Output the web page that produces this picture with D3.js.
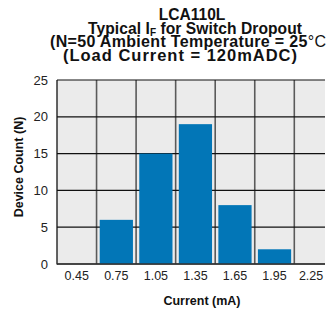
<!DOCTYPE html>
<html><head><meta charset="utf-8">
<script src="https://cdn.jsdelivr.net/npm/d3@7"></script>
<style>body{margin:0;background:#fff}svg{display:block;font-family:"Liberation Sans",Arial,sans-serif}</style>
</head><body><svg id="c" width="327" height="311"></svg>
<script>
const categories = ["0.45","0.75","1.05","1.35","1.65","1.95","2.25"];
const counts = [0, 6, 15, 19, 8, 2, 0];
const yTicks = [0, 5, 10, 15, 20, 25];

const svg = d3.select("#c");
const L = 57, T = 80, B = 264, R = 325;
const step = 39.55;
const x = d3.scaleBand().domain(categories).range([L, L + step * categories.length]).padding(0);
const y = d3.scaleLinear().domain([0, 25]).range([B, T]);

svg.append("defs").append("clipPath").attr("id","pc")
  .append("rect").attr("x", L).attr("y", T - 1).attr("width", R - L).attr("height", B - T + 2);

const g = svg.append("g").attr("clip-path","url(#pc)");
g.append("rect").attr("x", L).attr("y", T).attr("width", R - L).attr("height", B - T).attr("fill", "#ebebeb");

// vertical grid
g.selectAll("line.v").data(categories.slice(1)).join("line")
  .attr("x1", d => x(d)).attr("x2", d => x(d)).attr("y1", T).attr("y2", B)
  .attr("stroke", "#5a5a5a").attr("stroke-width", 1.6);
// horizontal grid
g.selectAll("line.h").data(yTicks).join("line")
  .attr("x1", L).attr("x2", R).attr("y1", d => y(d)).attr("y2", d => y(d))
  .attr("stroke", "#111").attr("stroke-width", 1.2);

// bars
const inset = x.bandwidth() * 0.08;
g.selectAll("rect.bar").data(categories.map((c, i) => ({c, v: counts[i]})).filter(d => d.v > 0)).join("rect")
  .attr("class","bar")
  .attr("x", d => x(d.c) + inset).attr("width", x.bandwidth() - 2 * inset)
  .attr("y", d => y(d.v)).attr("height", d => y(0) - y(d.v))
  .attr("fill", "#0276b7");

// axes lines
svg.append("line").attr("x1", L).attr("x2", L).attr("y1", T).attr("y2", B + 0.6).attr("stroke", "#111").attr("stroke-width", 1.3);
svg.append("line").attr("x1", L).attr("x2", R).attr("y1", B).attr("y2", B).attr("stroke", "#333").attr("stroke-width", 1.4);

// y axis labels
const ya = svg.append("g").attr("transform", `translate(${L},0)`)
  .call(d3.axisLeft(y).tickValues(yTicks).tickSize(0).tickPadding(9));
ya.select(".domain").remove();
ya.selectAll("text").attr("font-size", 13).attr("fill", "#222").attr("font-family", "Liberation Sans, Arial, sans-serif");

// x axis labels
const xa = svg.append("g").attr("transform", `translate(0,${B})`)
  .call(d3.axisBottom(x).tickSize(0).tickPadding(7));
xa.select(".domain").remove();
xa.selectAll("text").attr("font-size", 12.5).attr("fill", "#222").attr("font-family", "Liberation Sans, Arial, sans-serif");
xa.selectAll(".tick").filter(d => d === "2.25").select("text").attr("dx", -3);

// axis titles
svg.append("text").attr("transform", "translate(23,167) rotate(-90)").attr("text-anchor","middle")
  .attr("font-size", 12.5).attr("font-weight","bold").attr("fill","#111").text("Device Count (N)");
svg.append("text").attr("x", 202).attr("y", 305).attr("text-anchor","middle")
  .attr("font-size", 12.5).attr("font-weight","bold").attr("fill","#111").text("Current (mA)");

// title
const tt = svg.append("g").attr("font-weight","bold").attr("fill","#111");
tt.append("text").attr("x", 192).attr("y", 19.5).attr("font-size", 15.6).attr("text-anchor","middle").text("LCA110L");
const l2 = tt.append("text").attr("x", 88).attr("y", 33.5).attr("font-size", 15.6).attr("textLength", 214).attr("lengthAdjust", "spacing");
l2.append("tspan").text("Typical I");
l2.append("tspan").attr("font-size", 10).attr("dy", 2.5).text("F");
l2.append("tspan").attr("dy", -2.5).text(" for Switch Dropout");
const l3 = tt.append("text").attr("x", 50).attr("y", 47).attr("font-size", 16).attr("textLength", 276).attr("lengthAdjust", "spacing");
l3.append("tspan").text("(N=50 Ambient Temperature = 25");
l3.append("tspan").attr("font-weight","normal").text("°C");
tt.append("text").attr("x", 63).attr("y", 61).attr("font-size", 16.5).attr("textLength", 234).attr("lengthAdjust", "spacing").text("(Load Current = 120mADC)");
</script></body></html>
